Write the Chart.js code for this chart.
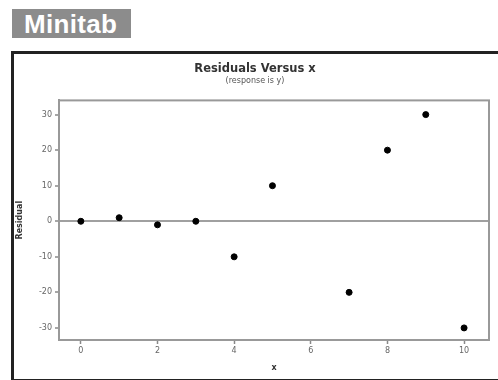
<!DOCTYPE html>
<html>
<head>
<meta charset="utf-8">
<script src="https://cdn.jsdelivr.net/npm/chart.js@4"></script>
<style>
  html, body { margin: 0; padding: 0; background: #fff; }
  #wrap { position: relative; width: 498px; height: 380px; overflow: hidden; }
  #tag {
    position: absolute; left: 12px; top: 9px; width: 119px; height: 29px;
    background: #8c8c8c; color: #fff;
    font: bold 26px "Liberation Sans", Arial, sans-serif;
    line-height: 30px; padding-left: 12px; box-sizing: border-box;
    letter-spacing: 0.3px;
  }
  #frame {
    position: absolute; left: 11px; top: 51px; width: 520px; height: 325px;
    border: 3px solid #222; border-right: none;
  }
  canvas { position: absolute; left: 0; top: 0; }
</style>
</head>
<body>
<div id="wrap">
  <div id="tag">Minitab</div>
  <div id="frame"></div>
  <canvas id="chart-resid" width="498" height="380"></canvas>
</div>
<script>
const xValues = [0, 1, 2, 3, 4, 5, 7, 8, 9, 10];
const residuals = [0, 1, -1, 0, -10, 10, -20, 20, 30, -30];
const xTicks = [0, 2, 4, 6, 8, 10];
const yTicks = [-30, -20, -10, 0, 10, 20, 30];

const tickFont = { family: 'DejaVu Sans', size: 8 };

// box round the plot area, Minitab style
const plotBox = {
  id: 'plotBox',
  afterDraw(chart) {
    const a = chart.chartArea, c = chart.ctx;
    c.save();
    c.strokeStyle = '#999';
    c.lineWidth = 2;
    c.strokeRect(a.left, a.top, a.right - a.left, a.bottom - a.top);
    c.restore();
  }
};

new Chart(document.getElementById('chart-resid'), {
  type: 'scatter',
  data: {
    datasets: [{
      label: 'Residual',
      data: xValues.map((x, i) => ({ x: x, y: residuals[i] })),
      backgroundColor: '#000',
      borderColor: '#000',
      pointRadius: 3,
      pointHoverRadius: 3
    }]
  },
  options: {
    responsive: false,
    animation: false,
    layout: { padding: { left: 12, top: 52, right: 0, bottom: 0 } },
    plugins: {
      legend: { display: false },
      tooltip: { enabled: false },
      title: {
        display: true,
        text: 'Residuals Versus x',
        color: '#333',
        font: { family: 'DejaVu Sans', size: 11.5, weight: 'bold', lineHeight: 1.2 },
        padding: { top: 10, bottom: 0 }
      },
      subtitle: {
        display: true,
        text: '(response is y)',
        color: '#555',
        font: { family: 'DejaVu Sans', size: 8, lineHeight: 1.2 },
        padding: { top: 0, bottom: 15 }
      }
    },
    scales: {
      x: {
        type: 'linear',
        min: -0.57,
        max: 10.65,
        afterFit: s => { s.height = 40; },
        afterBuildTicks: s => { s.ticks = xTicks.map(v => ({ value: v })); },
        ticks: { color: '#666', font: tickFont, padding: 2, maxRotation: 0 },
        grid: { drawOnChartArea: false, tickLength: 4, tickColor: '#888', tickWidth: 1.5 },
        border: { color: '#999', width: 2 },
        title: {
          display: true, text: 'x', color: '#333',
          font: { family: 'DejaVu Sans', size: 8, weight: 'bold', lineHeight: 1.2 },
          padding: { top: 0, bottom: 7 }
        }
      },
      y: {
        type: 'linear',
        min: -33.4,
        max: 34,
        afterFit: s => { s.width = 47; },
        afterBuildTicks: s => { s.ticks = yTicks.map(v => ({ value: v })); },
        ticks: { color: '#666', font: tickFont, padding: 3 },
        grid: {
          color: c => (c.tick && c.tick.value === 0) ? '#a0a0a0' : 'rgba(0,0,0,0)',
          lineWidth: 2,
          tickLength: 4,
          tickColor: '#888',
          tickWidth: 1.5
        },
        border: { color: '#999', width: 2 },
        title: {
          display: true, text: 'Residual', color: '#333',
          font: { family: 'DejaVu Sans', size: 8, weight: 'bold', lineHeight: 1.2 },
          padding: { top: 3, bottom: 0 }
        }
      },
      spacer: {
        type: 'linear',
        position: 'right',
        afterFit: s => { s.width = 9; },
        ticks: { display: false },
        grid: { display: false },
        border: { display: false }
      }
    }
  },
  plugins: [plotBox]
});
</script>
</body>
</html>
